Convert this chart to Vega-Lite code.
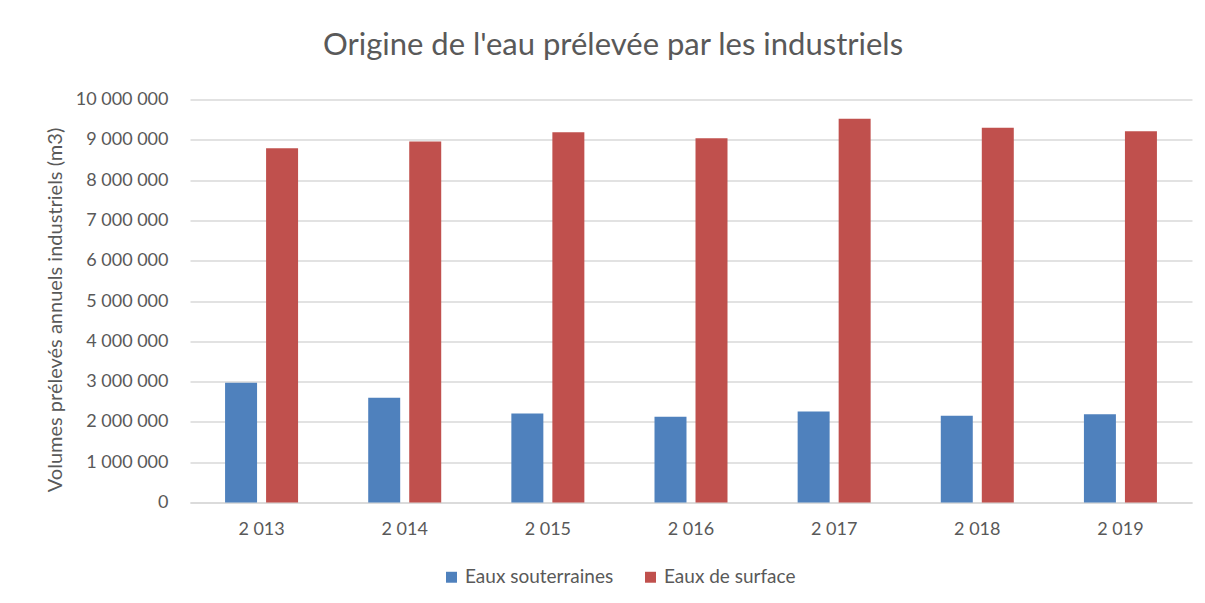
{
  "$schema": "https://vega.github.io/schema/vega-lite/v6.json",
  "width": 1002,
  "height": 403,
  "autosize": {"type": "none"},
  "padding": {"left": 190, "top": 99.5, "right": 13, "bottom": 100.5},
  "background": "white",
  "title": {
    "text": "Origine de l'eau prélevée par les industriels",
    "font": "Lato",
    "fontSize": 31,
    "fontWeight": "normal",
    "color": "#595959",
    "dx": -78,
    "baseline": "alphabetic",
    "offset": 5
  },
  "data": {
    "values": [
      {"year": 2013, "type": "Eaux souterraines", "value": 2970000},
      {"year": 2013, "type": "Eaux de surface", "value": 8790000},
      {"year": 2014, "type": "Eaux souterraines", "value": 2600000},
      {"year": 2014, "type": "Eaux de surface", "value": 8960000},
      {"year": 2015, "type": "Eaux souterraines", "value": 2210000},
      {"year": 2015, "type": "Eaux de surface", "value": 9190000},
      {"year": 2016, "type": "Eaux souterraines", "value": 2130000},
      {"year": 2016, "type": "Eaux de surface", "value": 9040000},
      {"year": 2017, "type": "Eaux souterraines", "value": 2260000},
      {"year": 2017, "type": "Eaux de surface", "value": 9520000},
      {"year": 2018, "type": "Eaux souterraines", "value": 2150000},
      {"year": 2018, "type": "Eaux de surface", "value": 9300000},
      {"year": 2019, "type": "Eaux souterraines", "value": 2190000},
      {"year": 2019, "type": "Eaux de surface", "value": 9210000}
    ]
  },
  "mark": {"type": "bar"},
  "encoding": {
    "x": {
      "field": "year",
      "type": "ordinal",
      "scale": {"paddingInner": 0.49, "paddingOuter": 0.245},
      "axis": {
        "title": null,
        "labelAngle": 0,
        "labelExpr": "format(datum.value, ',')",
        "labelFont": "Lato",
        "labelFontSize": 18,
        "labelColor": "#595959",
        "labelPadding": 18,
        "ticks": false,
        "domainColor": "#D9D9D9",
        "domainWidth": 1.5
      }
    },
    "xOffset": {
      "field": "type",
      "type": "nominal",
      "sort": ["Eaux souterraines", "Eaux de surface"],
      "scale": {"paddingInner": 0.22, "paddingOuter": 0}
    },
    "y": {
      "field": "value",
      "type": "quantitative",
      "scale": {"domain": [0, 10000000], "nice": false},
      "axis": {
        "title": "Volumes prélevés annuels industriels (m3)",
        "titleFont": "Lato",
        "titleFontSize": 20,
        "titleFontWeight": "normal",
        "titleColor": "#595959",
        "titleX": -135,
        "titleY": 210,
        "titleBaseline": "middle",
        "titleAlign": "center",
        "values": [0, 1000000, 2000000, 3000000, 4000000, 5000000, 6000000, 7000000, 8000000, 9000000, 10000000],
        "format": ",d",
        "labelOverlap": false,
        "labelFont": "Lato",
        "labelFontSize": 18,
        "labelColor": "#595959",
        "labelPadding": 22,
        "ticks": false,
        "domain": false,
        "gridColor": "#D9D9D9",
        "gridWidth": 1.5
      }
    },
    "color": {
      "field": "type",
      "type": "nominal",
      "scale": {
        "domain": ["Eaux souterraines", "Eaux de surface"],
        "range": ["#4F81BD", "#C0504D"]
      },
      "legend": {
        "title": null,
        "orient": "none",
        "legendX": 252,
        "legendY": 468,
        "direction": "horizontal",
        "symbolType": "square",
        "symbolSize": 120,
        "symbolStrokeWidth": 0,
        "labelFont": "Lato",
        "labelFontSize": 19,
        "labelColor": "#595959",
        "labelOffset": 4,
        "columnPadding": 27
      }
    }
  },
  "config": {
    "locale": {
      "number": {"decimal": ",", "thousands": " ", "grouping": [3], "currency": ["", " €"]}
    },
    "view": {"stroke": null}
  }
}
